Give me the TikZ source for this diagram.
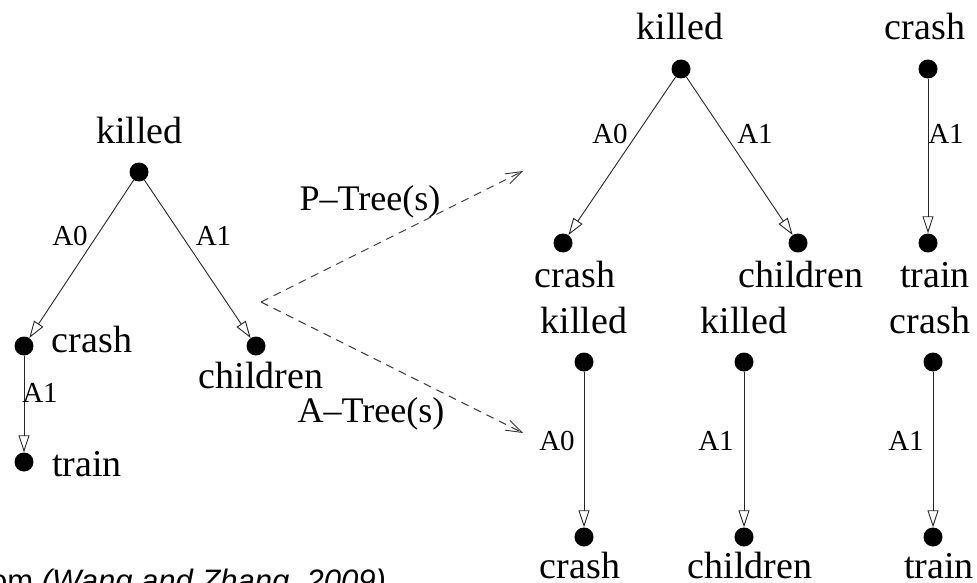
\documentclass[tikz,border=0pt]{standalone}
\usepackage{fontspec}
\setmainfont{Liberation Serif}
\newfontfamily\citefont{Liberation Sans}
\usetikzlibrary{arrows.meta}

\tikzset{
  word/.style={anchor=base, inner sep=0pt, font=\fontsize{38}{40}\selectfont},
  role/.style={anchor=base, inner sep=0pt, font=\fontsize{29}{31}\selectfont},
  treetag/.style={anchor=base, inner sep=0pt, font=\fontsize{36}{38}\selectfont},
  dot/.style={circle, fill=black, inner sep=0pt, minimum size=19pt},
  edge/.style={draw=black!85, line width=0.9pt,
    -{Triangle[open, length=17pt, width=11pt, line width=0.9pt]}},
  fork/.style={draw=black!80, line width=0.9pt, dash pattern=on 8pt off 6pt,
    -{Straight Barb[length=16pt, width=11pt, line width=0.9pt]}}
}

\begin{document}
\begin{tikzpicture}[x=1pt, y=-1pt]
\useasboundingbox (0,0) rectangle (977,583);
\clip (0,0) rectangle (977,583);

% ---- source tree ----
\node[dot] (sK) at (139,172) {};
\node[dot] (sC) at (24,346) {};
\node[dot] (sH) at (256,346) {};
\node[dot] (sT) at (24,462) {};
\node[word] (wsK) at (139.5,143) {killed};
\node[word] (wsC) at (92,352) {crash};
\node[word] (wsH) at (261,388) {children};
\node[word] (wsT) at (87,476) {train};
\draw[edge] (sK) -- (sC);
\draw[edge] (sK) -- (sH);
\draw[edge] (sC) -- (sT);
\node[role] (lsA0) at (70,245) {A0};
\node[role] (lsA1) at (213.5,245) {A1};
\node[role] (lsA1b) at (40,402) {A1};

% ---- decomposition arrows ----
\coordinate (split) at (261,302);
\coordinate (ptip) at (523,171);
\coordinate (atip) at (523,433);
\draw[fork] (split) -- (ptip);
\draw[fork] (split) -- (atip);
\node[treetag] (pt) at (370,210) {P--Tree(s)};
\node[treetag] (at) at (371,422) {A--Tree(s)};

% ---- P-trees ----
\node[dot] (pK) at (681,69) {};
\node[dot] (pC) at (563,243) {};
\node[dot] (pH) at (798,243) {};
\node[word] (wpK) at (680,40) {killed};
\node[word] (wpC) at (575,287) {crash};
\node[word] (wpH) at (801,287) {children};
\draw[edge] (pK) -- (pC);
\draw[edge] (pK) -- (pH);
\node[role] (lpA0) at (610,143) {A0};
\node[role] (lpA1) at (755,143) {A1};

\node[dot] (qC) at (928,69) {};
\node[dot] (qT) at (928,243) {};
\node[word] (wqC) at (925,40) {crash};
\node[word] (wqT) at (935,287) {train};
\draw[edge] (qC) -- (qT);
\node[role] (lqA1) at (946,143) {A1};

% ---- A-trees ----
\node[dot] (aK1) at (584,362) {};
\node[dot] (aC1) at (584,537) {};
\node[word] (waK1) at (584,333) {killed};
\node[word] (waC1) at (580,578) {crash};
\draw[edge] (aK1) -- (aC1);
\node[role] (laA0) at (557,450) {A0};

\node[dot] (aK2) at (744,362) {};
\node[dot] (aH2) at (744,537) {};
\node[word] (waK2) at (744,333) {killed};
\node[word] (waH2) at (750,578) {children};
\draw[edge] (aK2) -- (aH2);
\node[role] (laA1) at (716,450) {A1};

\node[dot] (aC3) at (933,362) {};
\node[dot] (aT3) at (933,537) {};
\node[word] (waC3) at (930,333) {crash};
\node[word] (waT3) at (939,578) {train};
\draw[edge] (aC3) -- (aT3);
\node[role] (laA1b) at (906,450) {A1};

% ---- citation line (runs off the lower left edge) ----
\node[anchor=base west, inner sep=0pt] (cite) at (-10,591)
  {\citefont\fontsize{31}{33}\selectfont om \textit{(Wang and Zhang, 2009)}};
\end{tikzpicture}
\end{document}
